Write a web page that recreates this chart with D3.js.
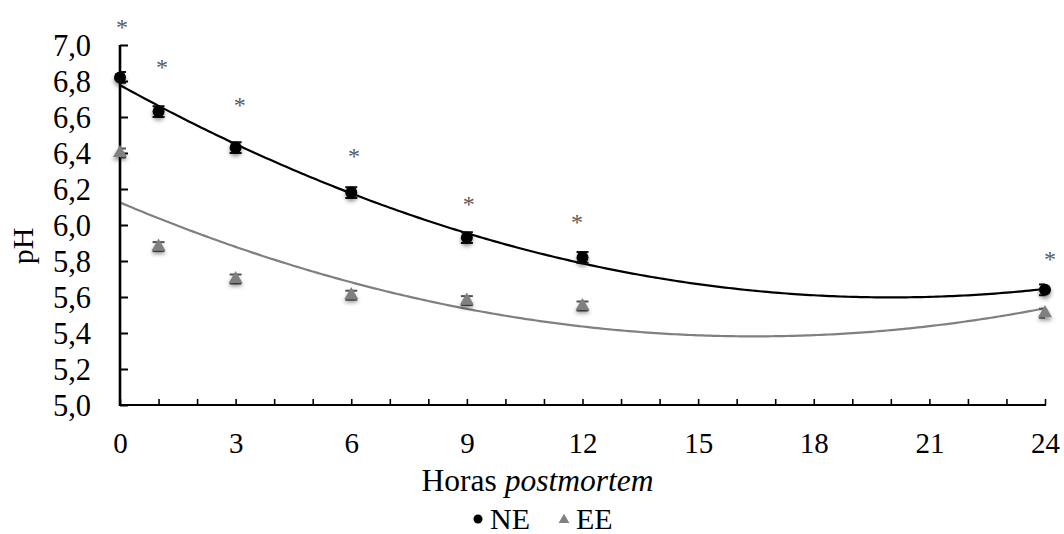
<!DOCTYPE html>
<html>
<head>
<meta charset="utf-8">
<script src="https://cdn.jsdelivr.net/npm/d3@7"></script>
<style>
  html, body { margin: 0; padding: 0; background: #fff; }
  svg { display: block; }
  svg text { font-family: "Liberation Serif", "Times New Roman", Times, "DejaVu Serif", serif; }
</style>
</head>
<body>
<svg id="chart" width="1064" height="534"></svg>
<script>
// ---- data ----
const hours = [0, 1, 3, 6, 9, 12, 24];
const neValues = [6.82, 6.63, 6.43, 6.18, 5.93, 5.82, 5.64];
const eeValues = [6.40, 5.88, 5.70, 5.61, 5.58, 5.55, 5.51];
const neErrors = [0.03, 0.03, 0.03, 0.03, 0.03, 0.03, 0.03];
const eeErrors = [0.025, 0.025, 0.025, 0.025, 0.025, 0.025, 0.025];
// significance markers (asterisks) position, in data units
const sigHours = [0.05, 1.09, 3.11, 6.07, 9.05, 11.86, 24.13];
const sigLevels = [7.128, 6.906, 6.694, 6.411, 6.144, 6.044, 5.839];
const xTickValues = d3.range(0, 25, 1);
const xLabelValues = [0, 3, 6, 9, 12, 15, 18, 21, 24];
const yTickValues = [5.0, 5.2, 5.4, 5.6, 5.8, 6.0, 6.2, 6.4, 6.6, 6.8, 7.0];
const seriesNames = ["NE", "EE"];
const xTitle = "Horas ";
const xTitleItalic = "postmortem";
const yTitle = "pH";

// ---- layout ----
const W = 1064, H = 534;
const FONT = '"Liberation Serif", "Times New Roman", Times, "DejaVu Serif", serif';
const plot = { left: 120, right: 1045, top: 45, bottom: 405 };
const colNE = "#000000", colEE = "#808080";

const svg = d3.select("#chart").attr("font-family", FONT);
const x = d3.scaleLinear().domain([0, 24]).range([plot.left, plot.right]);
const y = d3.scaleLinear().domain([5.0, 7.0]).range([plot.bottom, plot.top]);

const defs = svg.append("defs");
const f = defs.append("filter").attr("id", "shadow")
  .attr("x", "-100%").attr("y", "-100%").attr("width", "300%").attr("height", "300%");
f.append("feDropShadow").attr("dx", 0).attr("dy", 3).attr("stdDeviation", 2.2)
  .attr("flood-color", "#000").attr("flood-opacity", 0.45);
defs.append("clipPath").attr("id", "plotclip").append("rect")
  .attr("x", plot.left).attr("y", 0).attr("width", plot.right - plot.left).attr("height", H);

// ---- quadratic least-squares trend ----
function quadFit(xs, ys) {
  let S = [0, 0, 0, 0, 0], T = [0, 0, 0];
  xs.forEach((xv, i) => {
    for (let k = 0; k < 5; k++) S[k] += Math.pow(xv, k);
    for (let k = 0; k < 3; k++) T[k] += Math.pow(xv, k) * ys[i];
  });
  const M = [[S[0], S[1], S[2], T[0]], [S[1], S[2], S[3], T[1]], [S[2], S[3], S[4], T[2]]];
  for (let i = 0; i < 3; i++) {
    for (let j = i + 1; j < 3; j++) {
      const r = M[j][i] / M[i][i];
      for (let k = i; k < 4; k++) M[j][k] -= r * M[i][k];
    }
  }
  const c = [0, 0, 0];
  for (let i = 2; i >= 0; i--) {
    let s = M[i][3];
    for (let k = i + 1; k < 3; k++) s -= M[i][k] * c[k];
    c[i] = s / M[i][i];
  }
  return t => c[0] + c[1] * t + c[2] * t * t;
}

const line = d3.line().x(d => x(d[0])).y(d => y(d[1]));
const tSamples = d3.range(0, 24.0001, 0.1);
[[neValues, colNE], [eeValues, colEE]].forEach(([vals, col]) => {
  const fn = quadFit(hours, vals);
  svg.append("path").datum(tSamples.map(t => [t, fn(t)]))
    .attr("d", line).attr("fill", "none").attr("stroke", col).attr("stroke-width", 2.2);
});

// ---- axes ----
const yAxis = d3.axisRight(y).tickValues(yTickValues).tickSize(8).tickFormat("");
const gy = svg.append("g").attr("transform", `translate(${plot.left},0)`).call(yAxis);
gy.select(".domain").remove();
gy.selectAll(".tick line").attr("stroke", "#000").attr("stroke-width", 2);
svg.append("line").attr("x1", plot.left).attr("x2", plot.left)
  .attr("y1", plot.top).attr("y2", plot.bottom + 1)
  .attr("stroke", "#000").attr("stroke-width", 2.6);

const yLab = d3.axisLeft(y).tickValues(yTickValues).tickSize(0)
  .tickFormat(v => d3.format(".1f")(v).replace(".", ","));
const gyl = svg.append("g").attr("transform", `translate(${plot.left - 29},0)`).call(yLab)
  .attr("font-family", FONT);
gyl.select(".domain").remove();
gyl.selectAll("text").attr("font-size", 30.5).attr("fill", "#000").attr("dy", "0.34em").attr("x", 0);

const xAxis = d3.axisTop(x).tickValues(xTickValues).tickSize(6).tickFormat("");
const gx = svg.append("g").attr("transform", `translate(0,${plot.bottom})`).call(xAxis);
gx.select(".domain").remove();
gx.selectAll(".tick line").attr("stroke", "#000").attr("stroke-width", 1.6);
svg.append("line").attr("x1", plot.left - 1).attr("x2", plot.right + 1)
  .attr("y1", plot.bottom).attr("y2", plot.bottom)
  .attr("stroke", "#000").attr("stroke-width", 2);

const xLab = d3.axisBottom(x).tickValues(xLabelValues).tickSize(0).tickFormat(d3.format("d"));
const gxl = svg.append("g").attr("transform", `translate(0,${plot.bottom})`).call(xLab)
  .attr("font-family", FONT);
gxl.select(".domain").remove();
gxl.selectAll("text").attr("font-size", 29).attr("fill", "#000").attr("dy", 0).attr("y", 48);

// axis titles
const xt = svg.append("text").attr("x", 537.5).attr("y", 491)
  .attr("text-anchor", "middle").attr("font-size", 31.5).attr("fill", "#000");
xt.append("tspan").text(xTitle);
xt.append("tspan").attr("font-style", "italic").text(xTitleItalic);

svg.append("text").attr("transform", "translate(33,246) rotate(-90)")
  .attr("text-anchor", "middle").attr("font-size", 30).attr("fill", "#000").text(yTitle);

// ---- error bars ----
const eb = svg.append("g").attr("clip-path", "url(#plotclip)");
function errorBars(vals, errs, col) {
  const g = eb.append("g").attr("stroke", col).attr("stroke-width", 2);
  hours.forEach((h, i) => {
    const cx = x(h), y1 = y(vals[i] + errs[i]), y2 = y(vals[i] - errs[i]);
    g.append("line").attr("x1", cx).attr("x2", cx).attr("y1", y1).attr("y2", y2);
    g.append("line").attr("x1", cx - 6).attr("x2", cx + 6).attr("y1", y1).attr("y2", y1);
    g.append("line").attr("x1", cx - 6).attr("x2", cx + 6).attr("y1", y2).attr("y2", y2);
  });
}
errorBars(neValues, neErrors, "#111");
errorBars(eeValues, eeErrors, "#555");

// ---- markers ----
const tri = d3.symbol().type(d3.symbolTriangle).size(85);
svg.append("g").selectAll("path").data(hours).join("path")
  .attr("d", tri).attr("transform", (h, i) => `translate(${x(h)},${y(eeValues[i])})`)
  .attr("fill", colEE).attr("filter", "url(#shadow)");
svg.append("g").selectAll("circle").data(hours).join("circle")
  .attr("cx", h => x(h)).attr("cy", (h, i) => y(neValues[i])).attr("r", 6)
  .attr("fill", colNE).attr("filter", "url(#shadow)");

// ---- asterisks ----
svg.append("g").selectAll("text").data(sigHours).join("text")
  .attr("x", h => x(h)).attr("y", (h, i) => y(sigLevels[i]) + 13)
  .attr("text-anchor", "middle").attr("font-size", 24).attr("fill", "#595959")
  .text("*");

// ---- legend ----
const lg = svg.append("g");
lg.append("circle").attr("cx", 478).attr("cy", 519).attr("r", 4.5).attr("fill", colNE);
lg.append("text").attr("x", 490).attr("y", 529).attr("font-size", 30).attr("fill", "#000").text(seriesNames[0]);
lg.append("path").attr("d", d3.symbol().type(d3.symbolTriangle).size(50))
  .attr("transform", "translate(564,520)").attr("fill", colEE);
lg.append("text").attr("x", 576).attr("y", 529).attr("font-size", 30).attr("fill", "#000").text(seriesNames[1]);
</script>
</body>
</html>
